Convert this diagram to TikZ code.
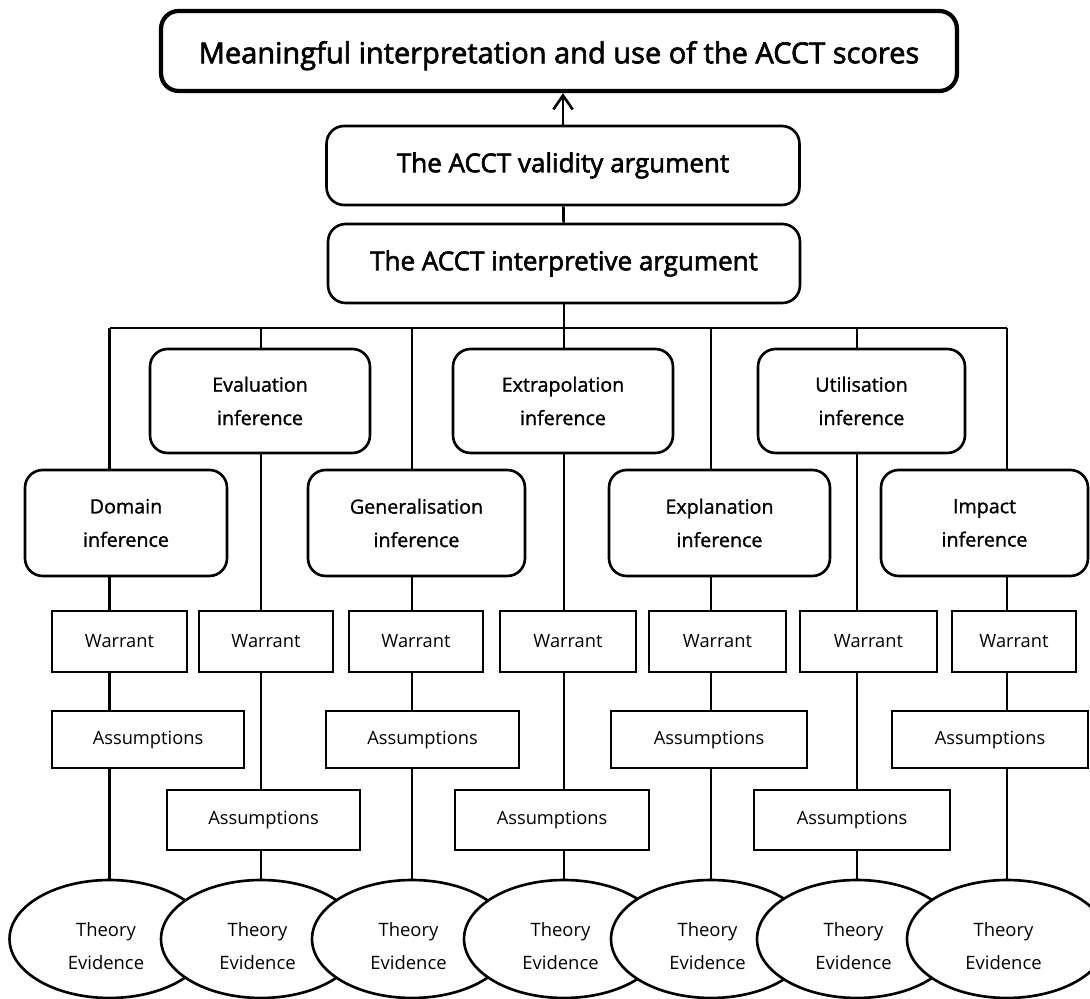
\documentclass[tikz,border=0pt]{standalone}
\usepackage{fontspec}
\setmainfont{Open Sans}
\newfontfamily\boldish[FakeBold=2.2]{Open Sans}
\newfontfamily\medfont[FakeBold=1.2]{Open Sans}
\usetikzlibrary{arrows.meta,backgrounds,shapes.geometric}

\begin{document}
\begin{tikzpicture}[x=0.02cm,y=-0.02cm,
    rbox/.style={draw,line width=1.5pt,rounded corners=10pt,fill=white,inner sep=0pt,align=center},
    infer/.style={rbox,font=\medfont\fontsize{11.2}{19}\selectfont},
    sqbox/.style={draw,line width=1.5pt,fill=white,inner sep=0pt,font=\fontsize{10.4}{19}\selectfont},
    warrant/.style={sqbox,minimum height=1.22cm},
    evid/.style={draw,ellipse,line width=1.5pt,fill=white,inner sep=0pt,minimum width=4cm,minimum height=2.36cm,
        label={[align=center,font=\fontsize{10.5}{18.5}\selectfont,xshift=-2pt,yshift=-4pt]center:{Theory\\Evidence}}},
    link/.style={line width=1.5pt}]
        \useasboundingbox (0,0) rectangle (1090,999);

        % Top of the argument
        \node[rbox,line width=2.4pt,minimum width=15.92cm,minimum height=1.6cm,text height=14pt,text depth=0pt,
              font=\boldish\fontsize{16.5}{20}\selectfont] (scores) at (559,51)
              {Meaningful interpretation and use of the ACCT scores};
        \node[rbox,minimum width=9.46cm,minimum height=1.58cm,
              font=\boldish\fontsize{14.8}{18}\selectfont] (validity) at (563,165.5)
              {The ACCT validity argument};
        \node[rbox,minimum width=9.44cm,minimum height=1.58cm,
              font=\boldish\fontsize{14.8}{18}\selectfont] (interp) at (564,263.5)
              {The ACCT interpretive argument};

        % Branch points on the horizontal line
        \coordinate (c1) at (109.5,328);
        \coordinate (c2) at (261,328);
        \coordinate (c3) at (412,328);
        \coordinate (c4) at (564,328);
        \coordinate (c5) at (711,328);
        \coordinate (c6) at (857,328);
        \coordinate (c7) at (1007,328);

        % Inferences, upper row
        \node[infer,minimum width=4.4cm,minimum height=2.08cm] (eval) at (260,401) {Evaluation\\inference};
        \node[infer,minimum width=4.4cm,minimum height=2.08cm] (extra) at (563,401) {Extrapolation\\inference};
        \node[infer,minimum width=4.14cm,minimum height=2.08cm] (util) at (861.5,401) {Utilisation\\inference};

        % Inferences, lower row
        \node[infer,minimum width=4.04cm,minimum height=2.12cm] (domain) at (126,523) {Domain\\inference};
        \node[infer,minimum width=4.34cm,minimum height=2.12cm] (gener) at (416.5,523) {Generalisation\\inference};
        \node[infer,minimum width=4.42cm,minimum height=2.12cm] (expl) at (719.5,523) {Explanation\\inference};
        \node[infer,minimum width=4.14cm,minimum height=2.12cm] (impact) at (984.5,523) {Impact\\inference};

        % Warrants
        \node[warrant,minimum width=2.7cm] (w1) at (119.5,641.5) {Warrant};
        \node[warrant,minimum width=2.68cm] (w2) at (266,641.5) {Warrant};
        \node[warrant,minimum width=2.68cm] (w3) at (416,641.5) {Warrant};
        \node[warrant,minimum width=2.72cm] (w4) at (568,641.5) {Warrant};
        \node[warrant,minimum width=2.74cm] (w5) at (717.5,641.5) {Warrant};
        \node[warrant,minimum width=2.74cm] (w6) at (868.5,641.5) {Warrant};
        \node[warrant,minimum width=2.48cm] (w7) at (1014,641.5) {Warrant};

        % Assumptions
        \node[sqbox,minimum width=3.84cm,minimum height=1.14cm] (a1) at (148,739.5) {Assumptions};
        \node[sqbox,minimum width=3.86cm,minimum height=1.2cm] (a2) at (263.5,820) {Assumptions};
        \node[sqbox,minimum width=3.86cm,minimum height=1.14cm] (a3) at (422.5,739.5) {Assumptions};
        \node[sqbox,minimum width=3.88cm,minimum height=1.2cm] (a4) at (552,820) {Assumptions};
        \node[sqbox,minimum width=3.92cm,minimum height=1.14cm] (a5) at (709,739.5) {Assumptions};
        \node[sqbox,minimum width=3.92cm,minimum height=1.2cm] (a6) at (852,820) {Assumptions};
        \node[sqbox,minimum width=3.92cm,minimum height=1.14cm] (a7) at (990,739.5) {Assumptions};

        % Theory and evidence
        \node[evid] (t1) at (109.5,939) {};
        \node[evid] (t2) at (261,939) {};
        \node[evid] (t3) at (412,939) {};
        \node[evid] (t4) at (564,939) {};
        \node[evid] (t5) at (711,939) {};
        \node[evid] (t6) at (857,939) {};
        \node[evid] (t7) at (1007,939) {};

        % Connectors behind the boxes
        \begin{scope}[on background layer]
            \draw[link] (validity) -- (interp);
            \draw[link] (interp) -- (c4);
            \draw[link] (c1) -- (c7);
            \draw[link] (c1) -- (t1.north);
            \draw[link] (c2) -- (t2.north);
            \draw[link] (c3) -- (t3.north);
            \draw[link] (c4) -- (t4.north);
            \draw[link] (c5) -- (t5.north);
            \draw[link] (c6) -- (t6.north);
            \draw[link] (c7) -- (t7.north);
        \end{scope}

        % Arrow up to the scores
        \draw[link,-{Straight Barb[length=8pt,width=11pt]}] (validity.north) -- (validity.north |- scores.south);
    \end{tikzpicture}
\end{document}
